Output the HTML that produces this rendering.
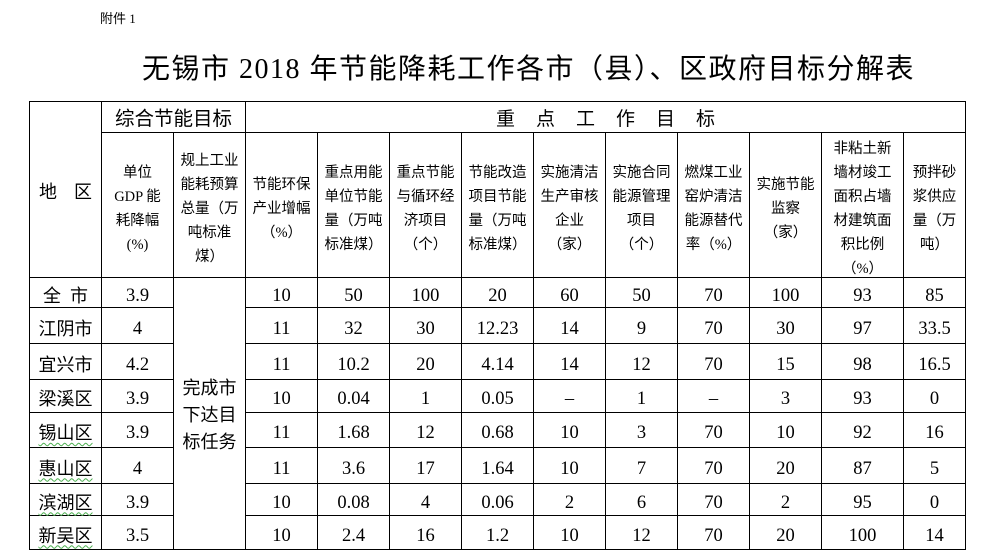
<!DOCTYPE html>
<html><head><meta charset="utf-8"><style>
html,body{margin:0;padding:0;background:#fff;}
body{width:989px;height:557px;position:relative;overflow:hidden;color:#000;font-family:"Liberation Serif","Noto Sans CJK SC",serif;}
.l{position:absolute;background:#000;}
.t{position:absolute;display:flex;align-items:center;justify-content:center;box-sizing:border-box;padding-top:6px;font-size:18.5px;line-height:20px;white-space:nowrap;text-align:center;}
.n{font-size:18px;font-family:"Liberation Serif","Noto Sans CJK SC",serif;}
.w{text-decoration:underline wavy #4caf50;text-decoration-thickness:1px;text-underline-offset:3px;}
.h{position:absolute;top:133px;height:144px;display:flex;align-items:center;justify-content:center;box-sizing:border-box;padding-top:8px;font-size:14.5px;line-height:24px;white-space:nowrap;text-align:center;}
.k1{left:30px;width:71px}.k2{left:102px;width:71px}.k3{left:174px;width:71px}.k4{left:246px;width:71px}
.k5{left:318px;width:71px}.k6{left:390px;width:71px}.k7{left:462px;width:71px}.k8{left:534px;width:71px}
.k9{left:606px;width:71px}.k10{left:678px;width:71px}.k11{left:750px;width:71px}.k12{left:822px;width:81px}.k13{left:904px;width:61px}
.r1{top:278px;height:29px}.r2{top:308px;height:35px}.r3{top:344px;height:35px}.r4{top:380px;height:32px}
.r5{top:413px;height:34px}.r6{top:448px;height:35px}.r7{top:484px;height:31px}.r8{top:516px;height:33px}
</style></head><body>

<div style="position:absolute;left:100px;top:10px;font-size:13px;line-height:18px;white-space:nowrap;">附件 1</div>
<div style="position:absolute;left:142px;top:56px;font-size:28px;line-height:28px;letter-spacing:1.5px;white-space:nowrap;">无锡市 2018 年节能降耗工作各市（县）、区政府目标分解表</div>

<!-- vertical lines -->
<div class="l" style="left:29px;top:101px;width:1px;height:449px"></div>
<div class="l" style="left:101px;top:101px;width:1px;height:449px"></div>
<div class="l" style="left:173px;top:132px;width:1px;height:418px"></div>
<div class="l" style="left:245px;top:101px;width:1px;height:449px"></div>
<div class="l" style="left:317px;top:132px;width:1px;height:418px"></div>
<div class="l" style="left:389px;top:132px;width:1px;height:418px"></div>
<div class="l" style="left:461px;top:132px;width:1px;height:418px"></div>
<div class="l" style="left:533px;top:132px;width:1px;height:418px"></div>
<div class="l" style="left:605px;top:132px;width:1px;height:418px"></div>
<div class="l" style="left:677px;top:132px;width:1px;height:418px"></div>
<div class="l" style="left:749px;top:132px;width:1px;height:418px"></div>
<div class="l" style="left:821px;top:132px;width:1px;height:418px"></div>
<div class="l" style="left:903px;top:132px;width:1px;height:418px"></div>
<div class="l" style="left:965px;top:101px;width:1px;height:449px"></div>
<!-- horizontal lines -->
<div class="l" style="left:29px;top:101px;width:937px;height:1px"></div>
<div class="l" style="left:101px;top:132px;width:865px;height:1px"></div>
<div class="l" style="left:29px;top:277px;width:937px;height:1px"></div>
<div class="l" style="left:29px;top:307px;width:145px;height:1px"></div><div class="l" style="left:245px;top:307px;width:721px;height:1px"></div>
<div class="l" style="left:29px;top:343px;width:145px;height:1px"></div><div class="l" style="left:245px;top:343px;width:721px;height:1px"></div>
<div class="l" style="left:29px;top:379px;width:145px;height:1px"></div><div class="l" style="left:245px;top:379px;width:721px;height:1px"></div>
<div class="l" style="left:29px;top:412px;width:145px;height:1px"></div><div class="l" style="left:245px;top:412px;width:721px;height:1px"></div>
<div class="l" style="left:29px;top:447px;width:145px;height:1px"></div><div class="l" style="left:245px;top:447px;width:721px;height:1px"></div>
<div class="l" style="left:29px;top:483px;width:145px;height:1px"></div><div class="l" style="left:245px;top:483px;width:721px;height:1px"></div>
<div class="l" style="left:29px;top:515px;width:145px;height:1px"></div><div class="l" style="left:245px;top:515px;width:721px;height:1px"></div>
<div class="l" style="left:29px;top:549px;width:937px;height:1px"></div>

<!-- header -->
<div class="t n k1" style="top:102px;height:175px;padding-top:5px;">地<span style="display:inline-block;width:17px"></span>区</div>
<div style="position:absolute;left:102px;top:102px;width:143px;height:30px;display:flex;align-items:center;justify-content:center;box-sizing:border-box;padding-top:5px;font-size:19.5px;line-height:22px;white-space:nowrap;">综合节能目标</div>
<div style="position:absolute;left:496px;top:102px;height:30px;display:flex;align-items:center;box-sizing:border-box;padding-top:5px;font-size:19px;line-height:22px;letter-spacing:21px;white-space:nowrap;">重点工作目标</div>

<div class="h k2">单位<br>GDP 能<br>耗降幅<br>(%)</div>
<div class="h k3">规上工业<br>能耗预算<br>总量（万<br>吨标准<br>煤）</div>
<div class="h k4">节能环保<br>产业增幅<br>（%）</div>
<div class="h k5">重点用能<br>单位节能<br>量（万吨<br>标准煤）</div>
<div class="h k6">重点节能<br>与循环经<br>济项目<br>（个）</div>
<div class="h k7">节能改造<br>项目节能<br>量（万吨<br>标准煤）</div>
<div class="h k8">实施清洁<br>生产审核<br>企业<br>（家）</div>
<div class="h k9">实施合同<br>能源管理<br>项目<br>（个）</div>
<div class="h k10">燃煤工业<br>窑炉清洁<br>能源替代<br>率（%）</div>
<div class="h k11">实施节能<br>监察<br>（家）</div>
<div class="h k12">非粘土新<br>墙材竣工<br>面积占墙<br>材建筑面<br>积比例<br>（%）</div>
<div class="h k13">预拌砂<br>浆供应<br>量（万<br>吨）</div>

<!-- merged col3 -->
<div class="t k3" style="top:278px;height:271px;padding-top:3px;font-size:18px;line-height:27px;">完成市<br>下达目<br>标任务</div>

<!-- row 1 -->
<div class="t n r1 k1">全<span style="display:inline-block;width:9px"></span>市</div>
<div class="t r1 k2">3.9</div><div class="t r1 k4">10</div><div class="t r1 k5">50</div><div class="t r1 k6">100</div><div class="t r1 k7">20</div><div class="t r1 k8">60</div><div class="t r1 k9">50</div><div class="t r1 k10">70</div><div class="t r1 k11">100</div><div class="t r1 k12">93</div><div class="t r1 k13">85</div>
<!-- row 2 -->
<div class="t n r2 k1">江阴市</div>
<div class="t r2 k2">4</div><div class="t r2 k4">11</div><div class="t r2 k5">32</div><div class="t r2 k6">30</div><div class="t r2 k7">12.23</div><div class="t r2 k8">14</div><div class="t r2 k9">9</div><div class="t r2 k10">70</div><div class="t r2 k11">30</div><div class="t r2 k12">97</div><div class="t r2 k13">33.5</div>
<!-- row 3 -->
<div class="t n r3 k1">宜兴市</div>
<div class="t r3 k2">4.2</div><div class="t r3 k4">11</div><div class="t r3 k5">10.2</div><div class="t r3 k6">20</div><div class="t r3 k7">4.14</div><div class="t r3 k8">14</div><div class="t r3 k9">12</div><div class="t r3 k10">70</div><div class="t r3 k11">15</div><div class="t r3 k12">98</div><div class="t r3 k13">16.5</div>
<!-- row 4 -->
<div class="t n r4 k1">梁溪区</div>
<div class="t r4 k2">3.9</div><div class="t r4 k4">10</div><div class="t r4 k5">0.04</div><div class="t r4 k6">1</div><div class="t r4 k7">0.05</div><div class="t r4 k8">–</div><div class="t r4 k9">1</div><div class="t r4 k10">–</div><div class="t r4 k11">3</div><div class="t r4 k12">93</div><div class="t r4 k13">0</div>
<!-- row 5 -->
<div class="t n r5 k1"><span class="w">锡山区</span></div>
<div class="t r5 k2">3.9</div><div class="t r5 k4">11</div><div class="t r5 k5">1.68</div><div class="t r5 k6">12</div><div class="t r5 k7">0.68</div><div class="t r5 k8">10</div><div class="t r5 k9">3</div><div class="t r5 k10">70</div><div class="t r5 k11">10</div><div class="t r5 k12">92</div><div class="t r5 k13">16</div>
<!-- row 6 -->
<div class="t n r6 k1"><span class="w">惠山区</span></div>
<div class="t r6 k2">4</div><div class="t r6 k4">11</div><div class="t r6 k5">3.6</div><div class="t r6 k6">17</div><div class="t r6 k7">1.64</div><div class="t r6 k8">10</div><div class="t r6 k9">7</div><div class="t r6 k10">70</div><div class="t r6 k11">20</div><div class="t r6 k12">87</div><div class="t r6 k13">5</div>
<!-- row 7 -->
<div class="t n r7 k1"><span class="w">滨湖区</span></div>
<div class="t r7 k2">3.9</div><div class="t r7 k4">10</div><div class="t r7 k5">0.08</div><div class="t r7 k6">4</div><div class="t r7 k7">0.06</div><div class="t r7 k8">2</div><div class="t r7 k9">6</div><div class="t r7 k10">70</div><div class="t r7 k11">2</div><div class="t r7 k12">95</div><div class="t r7 k13">0</div>
<!-- row 8 -->
<div class="t n r8 k1"><span class="w">新吴区</span></div>
<div class="t r8 k2">3.5</div><div class="t r8 k4">10</div><div class="t r8 k5">2.4</div><div class="t r8 k6">16</div><div class="t r8 k7">1.2</div><div class="t r8 k8">10</div><div class="t r8 k9">12</div><div class="t r8 k10">70</div><div class="t r8 k11">20</div><div class="t r8 k12">100</div><div class="t r8 k13">14</div>

</body></html>
